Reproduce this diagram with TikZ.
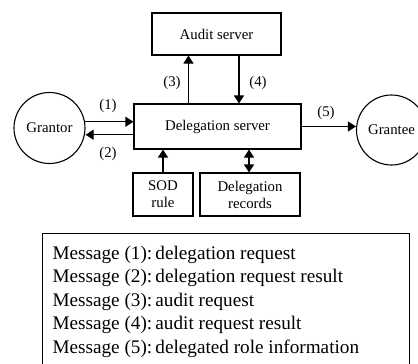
\documentclass[tikz,border=0pt]{standalone}
\usepackage{fontspec}
\setmainfont{Liberation Serif}
\usetikzlibrary{arrows.meta}
\begin{document}
\begin{tikzpicture}[x=1pt,y=-1pt,
  line width=1.1pt,
  box/.style={draw,rectangle,inner sep=0pt,align=center,font=\fontsize{14.8}{18}\selectfont},
  party/.style={draw,circle,inner sep=0pt,minimum size=71pt,font=\fontsize{14.8}{18}\selectfont},
  msg/.style={inner sep=0pt,font=\fontsize{14.8}{18}\selectfont},
  legendline/.style={inner sep=0pt,anchor=base west,font=\fontsize{19.2}{23}\selectfont},
  arr/.style={-{Triangle[length=8pt,width=10pt]}},
  darr/.style={{Triangle[length=8pt,width=10pt]}-{Triangle[length=8pt,width=10pt]}}]
\clip (0,0) rectangle (418,364);

% servers and data stores
\node[box,minimum width=129pt,minimum height=42pt] (audit) at (216.5,34) {Audit server};
\node[box,minimum width=167pt,minimum height=45pt] (ds) at (217.5,126.5) {Delegation server};
\node[box,minimum width=60pt,minimum height=43pt] (sod) at (163,194.5) {SOD\\[-1pt]rule};
\node[box,minimum width=100pt,minimum height=43pt] (rec) at (250,194.5) {Delegation\\[-1pt]records};

% parties
\node[party] (grantor) at (49.5,128) {Grantor};
\node[party,minimum size=70pt] (grantee) at (391.5,130) {Grantee};

% message flows
\draw[arr] (grantor.10) -- (grantor.10 -| ds.west);
\draw[arr] (grantor.10 -| ds.west) ++(0,13) coordinate (m2s) -- (m2s -| grantor.east);
\draw[arr] ([xshift=37pt]audit.south west |- ds.north) -- ([xshift=37pt]audit.south west);
\draw[arr] ([xshift=22.5pt]audit.south) -- ([xshift=22.5pt]audit.south |- ds.north);
\draw[arr] (ds.east) -- (ds.east -| grantee.west);
\draw[arr] (sod.north) -- (sod.north |- ds.south);
\draw[darr] ([xshift=-1pt]rec.north) -- ([xshift=-1pt]rec.north |- ds.south);

% message numbers
\node[msg] (l1) at (108,106) {(1)};
\node[msg] (l2) at (108,154) {(2)};
\node[msg] (l3) at (172,83) {(3)};
\node[msg] (l4) at (258,83) {(4)};
\node[msg] (l5) at (326,113) {(5)};

% legend
\draw[line width=1pt] (42,233) rectangle (409,380);
\node[legendline] (m1) at (52,259) {Message (1):\,delegation request};
\node[legendline] (m2) at (52,282.5) {Message (2):\,delegation request result};
\node[legendline] (m3) at (52,306) {Message (3):\,audit request};
\node[legendline] (m4) at (52,329.5) {Message (4):\,audit request result};
\node[legendline] (m5) at (52,353) {Message (5):\,delegated role information};
\end{tikzpicture}
\end{document}
